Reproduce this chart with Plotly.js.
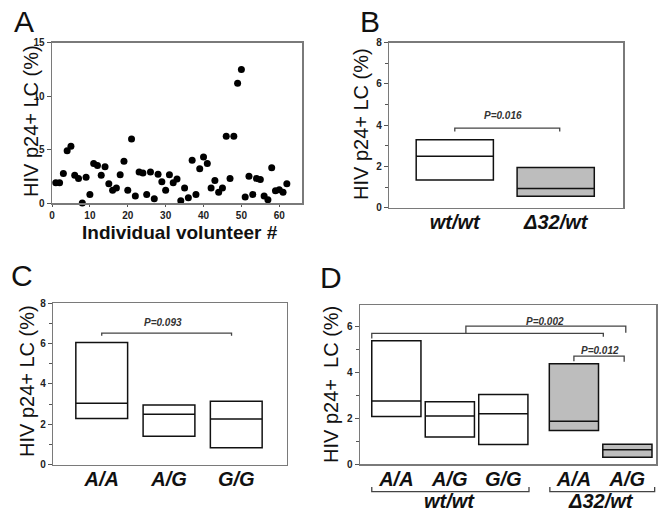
<!DOCTYPE html>
<html>
<head>
<meta charset="utf-8">
<script src="https://cdn.plot.ly/plotly-3.0.1.min.js"></script>
<style>html,body{margin:0;padding:0;background:#fff;}#chart{width:663px;height:514px;}</style>
</head>
<body>
<div id="chart"></div>
<script>
// ---------- DATA ----------
// Panel A: per-volunteer HIV p24+ LC (%)
const volunteerIds = [1,2,3,4,5,6,7,8,9,10,11,12,13,14,15,16,17,18,19,20,21,22,23,24,25,26,27,28,29,30,31,32,33,34,35,36,37,38,39,40,41,42,43,44,45,46,47,48,49,50,51,52,53,54,55,56,57,58,59,60,61,62];
const p24Pct = [1.9,1.9,2.75,4.9,5.3,2.6,2.3,0.0,2.4,0.8,3.7,3.5,2.6,3.4,1.8,1.2,1.4,2.65,3.9,1.2,6.0,0.65,2.9,2.8,0.8,2.9,0.4,2.7,2.0,1.2,2.65,1.9,2.25,0.2,1.4,0.5,4.0,0.8,3.2,4.3,3.7,1.4,2.1,1.0,1.4,6.25,2.3,6.25,11.2,12.5,0.56,2.5,0.8,2.3,2.2,0.65,0.3,3.3,1.15,1.25,1.0,1.8];

// Panel B: CCR5 genotype
const bGenotypes = ['wt/wt', '\u039432/wt'];
const bQ1 = [1.35, 0.56];
const bMedian = [2.5, 0.93];
const bQ3 = [3.3, 1.95];
const bPValue = 'P=0.016';

// Panel C: A/G genotype
const cGenotypes = ['A/A', 'A/G', 'G/G'];
const cQ1 = [2.28, 1.4, 0.83];
const cMedian = [3.04, 2.49, 2.26];
const cQ3 = [6.05, 2.95, 3.14];
const cPValue = 'P=0.093';

// Panel D: combined genotypes
const dWtGenotypes = ['A/A', 'A/G', 'G/G'];
const dWtQ1 = [2.08, 1.19, 0.86];
const dWtMedian = [2.76, 2.11, 2.21];
const dWtQ3 = [5.39, 2.73, 3.05];
const dD32Genotypes = ['A/A', 'A/G'];
const dD32Q1 = [1.48, 0.31];
const dD32Median = [1.88, 0.63];
const dD32Q3 = [4.39, 0.87];
const dGroupNames = ['wt/wt', '\u039432/wt'];
const dPValues = ['P=0.002', 'P=0.012'];

// ---------- LAYOUT HELPERS ----------
const FONT = 'Liberation Sans, Arial, Helvetica, sans-serif';
const W = 663, H = 514;
const px = v => v / W;
const py = v => 1 - v / H;

const bPos = [0, 1];
const cPos = [0, 1, 2];
const dWtPos = [0, 1, 2];
const dD32Pos = [3.32, 4.32];

const FRAME = '#7a7a7a';
const GRAY_FILL = '#bdbdbd';

function boxTrace(xa, ya, pos, q1, med, q3, fill, width) {
  return {
    type: 'box', xaxis: xa, yaxis: ya,
    x: pos, q1: q1, median: med, q3: q3,
    lowerfence: q1, upperfence: q3,
    width: width, whiskerwidth: 0,
    fillcolor: fill, line: {color: '#111', width: 1.5},
    boxpoints: false, hoverinfo: 'skip', showlegend: false
  };
}

const traces = [
  {
    type: 'scatter', mode: 'markers', xaxis: 'x', yaxis: 'y',
    x: volunteerIds, y: p24Pct,
    marker: {color: '#000', size: 7},
    cliponaxis: false, showlegend: false, hoverinfo: 'skip'
  },
  boxTrace('x2', 'y2', bPos.slice(0, 1), bQ1.slice(0, 1), bMedian.slice(0, 1), bQ3.slice(0, 1), '#ffffff', 0.765),
  boxTrace('x2', 'y2', bPos.slice(1), bQ1.slice(1), bMedian.slice(1), bQ3.slice(1), GRAY_FILL, 0.765),
  boxTrace('x3', 'y3', cPos, cQ1, cMedian, cQ3, '#ffffff', 0.77),
  boxTrace('x4', 'y4', dWtPos, dWtQ1, dWtMedian, dWtQ3, '#ffffff', 0.92),
  boxTrace('x4', 'y4', dD32Pos, dD32Q1, dD32Median, dD32Q3, GRAY_FILL, 0.92)
];

const tickFont = {family: FONT, size: 10, color: '#222', weight: 'bold'};
const catFont = {family: FONT, size: 20, color: '#111', weight: 'bold', style: 'italic'};

function frameAxis(extra) {
  return Object.assign({
    showline: true, mirror: true, linecolor: FRAME, linewidth: 1.5,
    showgrid: false, zeroline: false, fixedrange: true,
    ticks: 'outside', ticklen: 4, tickcolor: '#555', tickwidth: 1,
    tickfont: tickFont
  }, extra);
}

const minor = {dtick: 1, ticks: 'outside', ticklen: 3, tickcolor: '#555', showgrid: false};

// P-value brackets: polylines in data coordinates
const brackets = [
  {xref: 'x2', yref: 'y2', pts: [[0, 3.70], [0, 3.86], [1.04, 3.86], [1.04, 3.70]]},
  {xref: 'x3', yref: 'y3', pts: [[0, 6.39], [0, 6.52], [1.93, 6.52], [1.93, 6.39]]},
  {xref: 'x4', yref: 'y4', pts: [[-0.46, 5.49], [-0.46, 5.71], [3.87, 5.71], [3.87, 5.56]]},
  {xref: 'x4', yref: 'y4', pts: [[1.30, 5.71], [1.30, 6.03], [4.29, 6.03], [4.29, 5.74]]},
  {xref: 'x4', yref: 'y4', pts: [[3.32, 4.50], [3.32, 4.72], [4.26, 4.72], [4.26, 4.47]]}
];
const shapes = brackets.map(b => ({
  type: 'path', xref: b.xref, yref: b.yref,
  path: 'M' + b.pts.map(p => p[0] + ',' + p[1]).join(' L'),
  line: {color: '#444', width: 1.3}
}));
// group brackets under panel D
const groupSpans = [[-0.46, 2.48], [2.87, 4.83]];
groupSpans.forEach(s => {
  shapes.push({
    type: 'path', xref: 'x4', yref: 'paper',
    path: 'M' + s[0] + ',' + py(487) + ' L' + s[0] + ',' + py(491.7) + ' L' + s[1] + ',' + py(491.7) + ' L' + s[1] + ',' + py(487),
    line: {color: '#444', width: 1.3}
  });
});

const pFont = {family: FONT, size: 10, color: '#333', weight: 'bold', style: 'italic'};
const letterFont = {family: FONT, size: 30, color: '#111'};
const yTitleFont = {family: FONT, size: 20, color: '#111'};

const mean = a => a.reduce((s, v) => s + v, 0) / a.length;

function paperText(text, x, y, font, angle) {
  return {text: text, x: px(x), y: py(y), xref: 'paper', yref: 'paper', showarrow: false,
          xanchor: 'center', yanchor: 'middle', textangle: angle || 0, font: font};
}
function dataText(text, x, y, xref, yref, font) {
  return {text: text, x: x, y: y, xref: xref, yref: yref, showarrow: false,
          xanchor: 'center', yanchor: 'middle', font: font};
}

const annotations = [
  paperText('A', 24, 22, letterFont),
  paperText('B', 370, 22, letterFont),
  paperText('C', 22, 275, letterFont),
  paperText('D', 331, 277, letterFont),
  paperText('HIV p24+ LC (%)', 31, 121, yTitleFont, -90),
  paperText('HIV p24+ LC (%)', 361, 124, yTitleFont, -90),
  paperText('HIV p24+ LC (%)', 27, 381, yTitleFont, -90),
  paperText('HIV p24+\u00a0 LC (%)', 331, 385, yTitleFont, -90),
  paperText('Individual volunteer #', 180, 233, {family: FONT, size: 19, color: '#111', weight: 'bold'}),
  dataText(bPValue, 0.48, 4.46, 'x2', 'y2', pFont),
  dataText(cPValue, 0.91, 7.04, 'x3', 'y3', pFont),
  dataText(dPValues[0], 2.78, 6.22, 'x4', 'y4', pFont),
  dataText(dPValues[1], 3.81, 4.95, 'x4', 'y4', pFont),
  {text: dGroupNames[0], x: mean(dWtPos), y: py(501), xref: 'x4', yref: 'paper', showarrow: false,
   xanchor: 'center', yanchor: 'middle', font: catFont},
  {text: dGroupNames[1], x: mean(dD32Pos), y: py(501), xref: 'x4', yref: 'paper', showarrow: false,
   xanchor: 'center', yanchor: 'middle', font: catFont}
];

const layout = {
  width: W, height: H,
  margin: {l: 0, r: 0, t: 0, b: 0},
  paper_bgcolor: '#fff', plot_bgcolor: '#fff',
  boxmode: 'overlay',
  showlegend: false,
  font: {family: FONT},
  xaxis: frameAxis({domain: [px(52), px(302)], range: [0, 66], tickvals: [0,10,20,30,40,50,60], anchor: 'y', ticklen: 2}),
  yaxis: frameAxis({domain: [py(203), py(42.7)], range: [0, 15], dtick: 5, anchor: 'x'}),
  xaxis2: frameAxis({domain: [px(389.3), px(623.3)], range: [-0.649, 1.67], tickvals: bPos, ticktext: bGenotypes, ticks: '', ticklen: 0, ticklabelstandoff: -4, tickfont: catFont, anchor: 'y2'}),
  yaxis2: frameAxis({domain: [py(207.8), py(42.7)], range: [0, 8], dtick: 2, minor: minor, anchor: 'x2'}),
  xaxis3: frameAxis({domain: [px(53.3), px(286.7)], range: [-0.72, 2.75], tickvals: cPos, ticktext: cGenotypes, ticks: '', ticklen: 0, ticklabelstandoff: -4, tickfont: catFont, anchor: 'y3'}),
  yaxis3: frameAxis({domain: [py(464.5), py(303.3)], range: [0, 8], dtick: 2, minor: minor, anchor: 'x3'}),
  xaxis4: frameAxis({domain: [px(360), px(656)], range: [-0.68, 4.855], tickvals: dWtPos.concat(dD32Pos), ticktext: dWtGenotypes.concat(dD32Genotypes), ticks: '', ticklen: 0, ticklabelstandoff: -4, tickfont: catFont, anchor: 'y4'}),
  yaxis4: frameAxis({domain: [py(464.3), py(305)], range: [0, 6.95], dtick: 2, minor: minor, anchor: 'x4'}),
  shapes: shapes,
  annotations: annotations
};

Plotly.newPlot('chart', traces, layout, {staticPlot: true, displayModeBar: false});
</script>
</body>
</html>
